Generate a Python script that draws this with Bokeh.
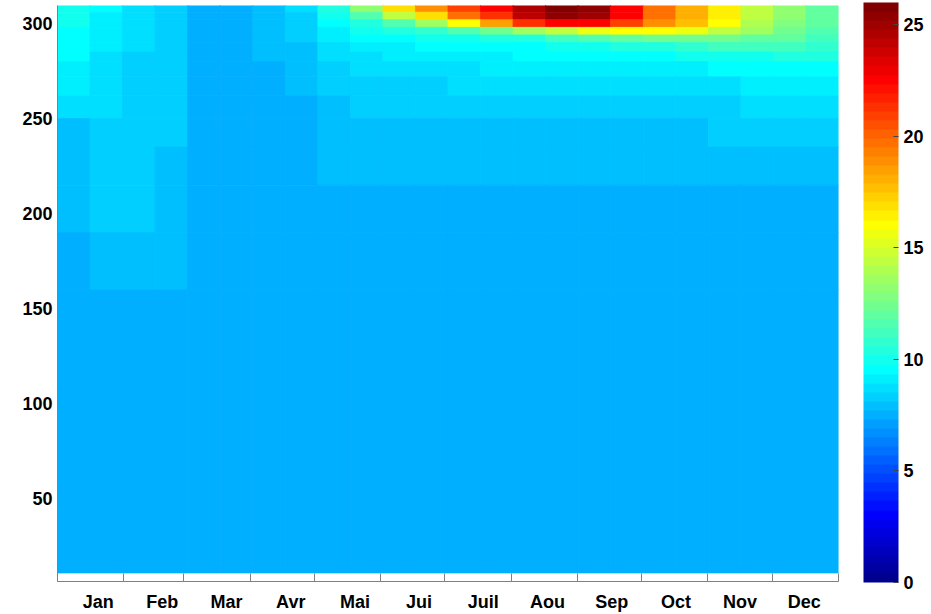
import math
from bokeh.plotting import figure
from bokeh.models import LinearColorMapper, ColorBar, FixedTicker, ColumnDataSource
from bokeh.embed import file_html
from bokeh.resources import INLINE

# ---------------- data ----------------
months = ["Jan", "Feb", "Mar", "Avr", "Mai", "Jui", "Juil", "Aou", "Sep", "Oct", "Nov", "Dec"]
month_starts = [0, 31, 59, 90, 120, 151, 181, 212, 243, 273, 304, 334, 365]
label_days = [19, 49, 79, 109, 139, 169, 199, 229, 259, 289, 319, 349]

# column edges (day of year, half-month slices)
day_edges = [0, 15.2, 30.4, 45.6, 60.8, 76.0, 91.3, 106.5, 121.7, 136.9, 152.1, 167.3,
             182.5, 197.7, 212.9, 228.1, 243.3, 258.5, 273.8, 289.0, 304.2, 319.4,
             334.6, 349.8, 365]
# row edges (vertical coordinate, top to bottom)
level_edges = [310, 306, 302, 298, 294, 290, 285, 280, 272, 262, 250, 235, 215, 190, 160, 11]

# temperature, one row per level (top to bottom), one value per half-month column
t_308 = [10.0, 9.4, 8.8, 8.4, 7.5, 7.5, 7.9, 8.6, 10.5, 13.0, 17.0, 19.0, 21.0, 22.5, 24.5, 26.0, 25.5, 22.5, 19.5, 18.0, 16.5, 14.5, 13.0, 12.0]
t_304 = [9.9, 9.3, 8.8, 8.4, 7.5, 7.5, 7.9, 8.5, 10.0, 11.5, 14.5, 17.0, 19.5, 21.5, 24.0, 25.5, 25.0, 22.5, 19.5, 18.0, 16.5, 14.5, 13.0, 12.0]
t_300 = [9.8, 9.3, 8.7, 8.3, 7.5, 7.5, 7.9, 8.4, 9.6, 10.3, 11.5, 13.5, 16.0, 18.5, 21.5, 22.5, 22.5, 21.0, 19.0, 17.5, 16.0, 14.0, 12.8, 11.8]
t_296 = [9.7, 9.2, 8.7, 8.3, 7.5, 7.5, 7.9, 8.3, 9.3, 9.8, 10.2, 10.8, 11.5, 12.5, 13.5, 14.5, 15.5, 16.0, 16.0, 15.5, 14.5, 13.5, 12.5, 11.5]
t_292 = [9.6, 9.1, 8.6, 8.3, 7.5, 7.5, 7.9, 8.2, 9.0, 9.4, 9.6, 9.8, 10.0, 10.2, 10.5, 11.0, 11.5, 12.0, 12.5, 12.5, 12.5, 12.0, 11.8, 11.2]
t_287 = [9.5, 9.0, 8.6, 8.2, 7.5, 7.5, 7.9, 8.1, 8.8, 9.1, 9.3, 9.4, 9.5, 9.6, 9.7, 9.8, 10.0, 10.2, 10.5, 10.7, 11.0, 11.0, 11.0, 10.8]
t_282 = [9.4, 8.9, 8.5, 8.2, 7.5, 7.5, 7.9, 8.0, 8.6, 8.8, 9.0, 9.1, 9.2, 9.3, 9.4, 9.4, 9.5, 9.6, 9.7, 9.8, 10.0, 10.1, 10.2, 10.3]
t_276 = [9.2, 8.8, 8.5, 8.2, 7.5, 7.5, 7.5, 7.9, 8.4, 8.6, 8.7, 8.8, 8.9, 9.0, 9.0, 9.0, 9.1, 9.2, 9.2, 9.3, 9.4, 9.5, 9.6, 9.7]
t_267 = [9.0, 8.7, 8.4, 8.2, 7.5, 7.5, 7.5, 7.9, 8.2, 8.4, 8.4, 8.5, 8.6, 8.6, 8.6, 8.6, 8.6, 8.7, 8.7, 8.8, 8.9, 9.0, 9.1, 9.3]
t_256 = [8.8, 8.6, 8.4, 8.2, 7.5, 7.5, 7.5, 7.5, 8.1, 8.2, 8.2, 8.3, 8.3, 8.3, 8.3, 8.3, 8.3, 8.4, 8.4, 8.4, 8.5, 8.6, 8.7, 8.8]
t_242 = [8.1, 8.5, 8.3, 8.2, 7.5, 7.5, 7.5, 7.5, 8.0, 8.0, 8.0, 8.1, 8.1, 8.1, 8.1, 8.1, 8.1, 8.1, 8.1, 8.1, 8.2, 8.2, 8.3, 8.4]
t_225 = [7.9, 8.4, 8.3, 8.1, 7.5, 7.5, 7.5, 7.5, 7.9, 7.9, 7.9, 7.9, 7.9, 7.9, 7.9, 7.9, 7.9, 7.9, 7.9, 7.9, 8.0, 8.0, 8.0, 8.1]
t_202 = [7.9, 8.2, 8.2, 8.0, 7.5, 7.5, 7.5, 7.5, 7.5, 7.5, 7.5, 7.5, 7.5, 7.5, 7.5, 7.5, 7.5, 7.5, 7.5, 7.5, 7.5, 7.5, 7.5, 7.5]
t_175 = [7.5, 8.0, 8.0, 7.9, 7.5, 7.5, 7.5, 7.5, 7.5, 7.5, 7.5, 7.5, 7.5, 7.5, 7.5, 7.5, 7.5, 7.5, 7.5, 7.5, 7.5, 7.5, 7.5, 7.5]
t_88 = [7.5, 7.5, 7.5, 7.5, 7.5, 7.5, 7.5, 7.5, 7.5, 7.5, 7.5, 7.5, 7.5, 7.5, 7.5, 7.5, 7.5, 7.5, 7.5, 7.5, 7.5, 7.5, 7.5, 7.5]
temperature = [t_308, t_304, t_300, t_296, t_292, t_287, t_282, t_276, t_267,
               t_256, t_242, t_225, t_202, t_175, t_88]

cbar_ticks = [0, 5, 10, 15, 20, 25]
y_ticks = [50, 100, 150, 200, 250, 300]


# ---------------- MATLAB "jet" colormap (64 levels) ----------------
def jet(m=64):
    n = math.ceil(m / 4)
    u = [i / n for i in range(1, n + 1)] + [1.0] * (n - 1) + [i / n for i in range(n, 0, -1)]
    g0 = math.ceil(n / 2) - (1 if m % 4 == 1 else 0)
    J = [[0.0, 0.0, 0.0] for _ in range(m)]
    for k, uk in enumerate(u):
        gi = g0 + k + 1
        ri, bi = gi + n, gi - n
        if 1 <= ri <= m:
            J[ri - 1][0] = uk
        if 1 <= gi <= m:
            J[gi - 1][1] = uk
        if 1 <= bi <= m:
            J[bi - 1][2] = uk
    return ["#%02x%02x%02x" % tuple(int(round(255 * c)) for c in row) for row in J]


mapper = LinearColorMapper(palette=jet(64), low=0, high=26)

left, right, bottom, top, t = [], [], [], [], []
for r, row in enumerate(temperature):
    for c, val in enumerate(row):
        left.append(day_edges[c])
        right.append(day_edges[c + 1])
        top.append(level_edges[r])
        bottom.append(level_edges[r + 1])
        t.append(val)
src = ColumnDataSource(dict(left=left, right=right, bottom=bottom, top=top, t=t))

FONT = "Liberation Sans"

p = figure(width=931, height=614, x_range=(0, 365), y_range=(6.5, 309.5),
           output_backend="svg", toolbar_location=None,
           min_border_left=57, min_border_top=5, min_border_bottom=31, min_border_right=93)
p.grid.visible = False
p.outline_line_color = None
p.background_fill_color = "white"

p.quad(left="left", right="right", bottom="bottom", top="top", source=src,
       fill_color={"field": "t", "transform": mapper},
       line_color={"field": "t", "transform": mapper}, line_width=0.8)

# x axis: month boundaries as (inward) ticks, labels between
p.xaxis.ticker = FixedTicker(ticks=label_days, minor_ticks=month_starts)
p.xaxis.major_label_overrides = {d: m for d, m in zip(label_days, months)}
p.xaxis.major_tick_in = 0
p.xaxis.major_tick_out = 0
p.xaxis.minor_tick_in = 8
p.xaxis.minor_tick_out = 0
p.xaxis.axis_line_color = "#808080"
p.xaxis.minor_tick_line_color = "#808080"
p.xaxis.major_label_standoff = 10

p.yaxis.ticker = FixedTicker(ticks=y_ticks)
p.yaxis.major_tick_in = 0
p.yaxis.major_tick_out = 0
p.yaxis.minor_tick_in = 0
p.yaxis.minor_tick_out = 0
p.yaxis.axis_line_color = "#808080"
p.yaxis.major_label_standoff = 5

for ax in (p.xaxis[0], p.yaxis[0]):
    ax.major_label_text_font = FONT
    ax.major_label_text_font_style = "bold"
    ax.major_label_text_font_size = "18px"
    ax.major_label_text_color = "black"

# colour bar placed to the right of the frame (screen offsets from frame bottom-left)
cb = ColorBar(color_mapper=mapper, ticker=FixedTicker(ticks=cbar_ticks),
              location=(806, -1), width=35, height=580,
              padding=0, margin=0, label_standoff=5,
              major_tick_in=5, major_tick_out=0, major_tick_line_color="#444444",
              minor_tick_line_color=None,
              major_label_text_font=FONT, major_label_text_font_style="bold",
              major_label_text_font_size="18px", major_label_text_color="black",
              bar_line_color=None, border_line_color=None, background_fill_alpha=0)
p.add_layout(cb, "center")

open("out.html", "w").write(file_html(p, INLINE))
